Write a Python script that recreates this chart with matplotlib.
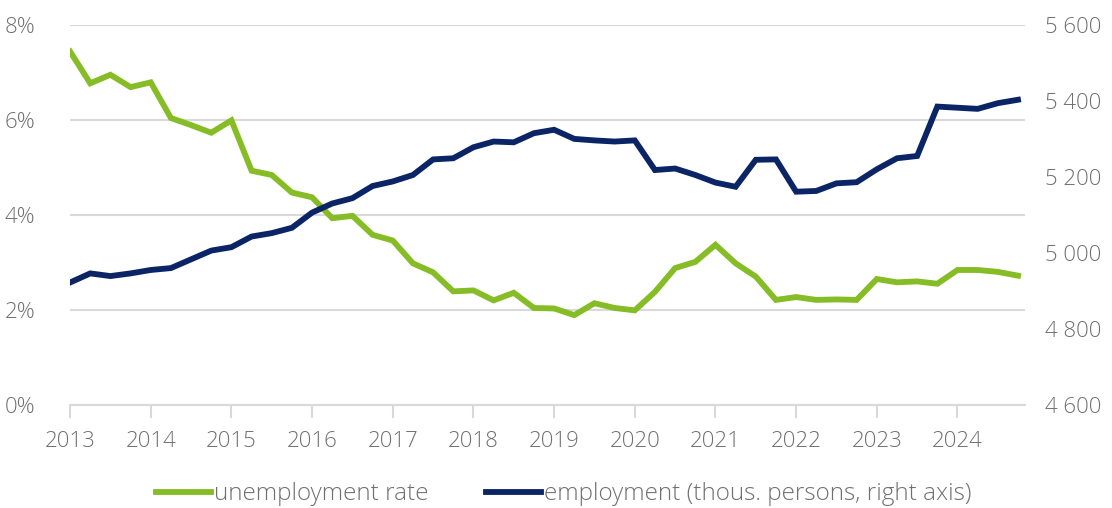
import numpy as np
import matplotlib
matplotlib.use('Agg')
import matplotlib.pyplot as plt

# quarterly, 2013Q1 .. 2024Q4
years = list(range(2013, 2025))
unemployment = [7.44, 6.77, 6.95, 6.69, 6.79, 6.04, 5.89, 5.73, 5.99, 4.93,
                4.84, 4.47, 4.37, 3.93, 3.98, 3.58, 3.46, 2.98, 2.79, 2.39,
                2.41, 2.20, 2.36, 2.04, 2.03, 1.89, 2.14, 2.04, 1.99, 2.38,
                2.88, 3.01, 3.37, 2.98, 2.70, 2.21, 2.27, 2.21, 2.22, 2.21,
                2.65, 2.58, 2.60, 2.55, 2.84, 2.84, 2.80, 2.72]
employment = [4922, 4946, 4939, 4946, 4955, 4960, 4983, 5006, 5015, 5043,
              5052, 5066, 5106, 5130, 5144, 5176, 5188, 5205, 5246, 5249,
              5278, 5293, 5291, 5315, 5324, 5300, 5296, 5293, 5296, 5218,
              5222, 5205, 5185, 5174, 5245, 5246, 5161, 5163, 5183, 5186,
              5220, 5249, 5255, 5385, 5382, 5379, 5394, 5403]
labels = ['unemployment rate', 'employment (thous. persons, right axis)']

green = '#86BC25'
navy = '#0A2466'
grey = '#707070'
plt.rcParams['font.family'] = ['Open Sans', 'DejaVu Sans']
plt.rcParams['font.weight'] = 'light'

t = 2013 + np.arange(len(unemployment)) / 4.0

fig = plt.figure(figsize=(11.12, 5.08), dpi=100)
ax = fig.add_axes([0.063, 0.203, 0.859, 0.748])
ax2 = ax.twinx()

l1, = ax.plot(t, unemployment, color=green, lw=4.2, solid_joinstyle='miter', zorder=3)
l2, = ax2.plot(t, employment, color=navy, lw=4.2, solid_joinstyle='miter', zorder=3)

ax.set_xlim(2013, 2024.84)
ax.set_ylim(0, 8)
ax2.set_ylim(4600, 5600)
ax.set_yticks([0, 2, 4, 6, 8])
ax.set_yticklabels(['%d%%' % v for v in [0, 2, 4, 6, 8]])
ax2.set_yticks([4600, 4800, 5000, 5200, 5400, 5600])
ax2.set_yticklabels(['4 600', '4 800', '5 000', '5 200', '5 400', '5 600'])
ax.set_xticks(years)
ax.set_xticklabels([str(y) for y in years])

ax.yaxis.grid(True, color='#D9D9D9', lw=1.5)
ax.set_axisbelow(True)
for a in (ax, ax2):
    for s in a.spines.values():
        s.set_visible(False)
ax.spines['bottom'].set_visible(True)
ax.spines['bottom'].set_color('#D9D9D9')
ax.spines['bottom'].set_linewidth(1.5)

ax.tick_params(axis='x', colors='#D9D9D9', length=9, width=1.5, labelcolor=grey,
               labelsize=16, pad=10)
ax.tick_params(axis='y', length=0, labelcolor=grey, labelsize=16, pad=25)
ax2.tick_params(axis='y', length=0, labelcolor=grey, labelsize=16, pad=14)

fig.legend([l1, l2], labels, loc='lower center', bbox_to_anchor=(0.507, -0.04),
           ncol=2, frameon=False, fontsize=17.5, labelcolor=grey,
           handlelength=2.25, handletextpad=0.12, columnspacing=2.4)

fig.savefig('out.png', dpi=100)
